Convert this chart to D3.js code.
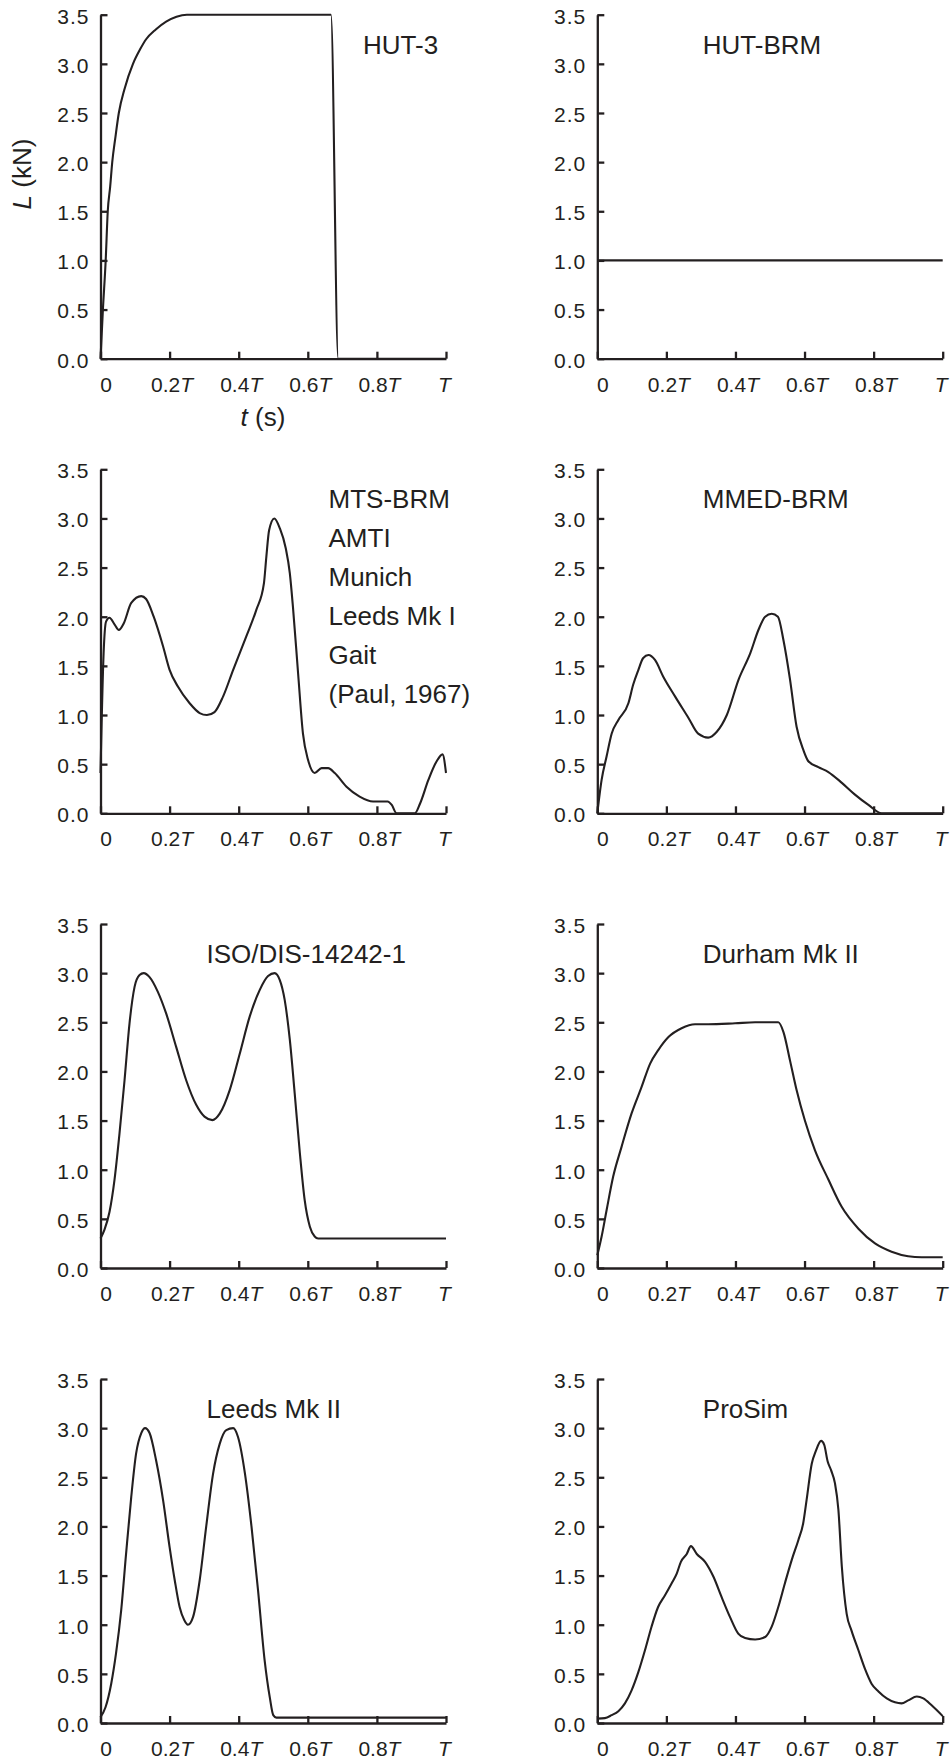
<!DOCTYPE html>
<html>
<head>
<meta charset="utf-8">
<script src="https://cdn.jsdelivr.net/npm/d3@7"></script>
<style>
body { margin: 0; background: #fff; }
svg text { font-family: "Liberation Sans", Arial, Helvetica, sans-serif; fill: #231f20; }
</style>
</head>
<body>
<svg id="chart" width="950" height="1763"></svg>
<script>

// tick values and labels (shared by all panels)
var yTicks = [0, 0.5, 1, 1.5, 2, 2.5, 3, 3.5];
var yTickLabels = ["0.0", "0.5", "1.0", "1.5", "2.0", "2.5", "3.0", "3.5"];
var xTicks = [0, 0.2, 0.4, 0.6, 0.8, 1];
var xTickLabels = ["0", "0.2T", "0.4T", "0.6T", "0.8T", "T"];

// HUT-3
var tHut3 = [0, 0.007, 0.015, 0.021, 0.028, 0.034, 0.043, 0.053, 0.07, 0.094, 0.115, 0.132, 0.16, 0.19, 0.22, 0.25, 0.667, 0.688, 1];
var lHut3 = [0, 0.5, 1.0, 1.5, 1.75, 2.0, 2.25, 2.5, 2.75, 3.0, 3.15, 3.25, 3.35, 3.43, 3.48, 3.5, 3.5, 0, 0];

// HUT-BRM
var tHutBrm = [0, 1];
var lHutBrm = [1, 1];

// MTS-BRM / AMTI / Munich / Leeds Mk I / Gait
var tMts = [0, 0.009, 0.016, 0.026, 0.041, 0.053, 0.067, 0.089, 0.118, 0.132, 0.154, 0.181, 0.2, 0.224, 0.258, 0.287, 0.308, 0.33, 0.355, 0.384, 0.422, 0.451, 0.473, 0.48, 0.488, 0.503, 0.519, 0.536, 0.548, 0.557, 0.572, 0.586, 0.601, 0.62, 0.64, 0.659, 0.678, 0.712, 0.75, 0.789, 0.831, 0.843, 0.857, 0.91, 0.925, 0.949, 0.973, 0.99, 1];
var lMts = [0.41, 1.63, 1.95, 1.99, 1.92, 1.865, 1.93, 2.14, 2.21, 2.18, 2.0, 1.7, 1.46, 1.29, 1.12, 1.02, 1.0, 1.03, 1.19, 1.46, 1.8, 2.07, 2.34, 2.61, 2.88, 3.0, 2.9, 2.7, 2.44, 2.1, 1.42, 0.81, 0.54, 0.41, 0.46, 0.46, 0.41, 0.27, 0.17, 0.12, 0.12, 0.085, 0, 0, 0.1, 0.34, 0.53, 0.6, 0.41];

// MMED-BRM
var tMmed = [0, 0.0125, 0.027, 0.0415, 0.061, 0.09, 0.104, 0.119, 0.133, 0.148, 0.167, 0.191, 0.225, 0.264, 0.292, 0.321, 0.346, 0.375, 0.409, 0.443, 0.467, 0.486, 0.505, 0.523, 0.539, 0.558, 0.577, 0.597, 0.611, 0.64, 0.669, 0.708, 0.746, 0.785, 0.823, 1];
var lMmed = [0, 0.34, 0.58, 0.81, 0.95, 1.12, 1.31, 1.46, 1.58, 1.61, 1.56, 1.39, 1.19, 0.97, 0.81, 0.77, 0.83, 1.0, 1.36, 1.63, 1.87, 2.0, 2.03, 2.0, 1.76, 1.36, 0.88, 0.64, 0.53, 0.47, 0.42, 0.31, 0.19, 0.085, 0, 0];

// ISO/DIS-14242-1
var tIso = [0, 0.0116, 0.026, 0.0406, 0.055, 0.0696, 0.084, 0.0986, 0.113, 0.125, 0.142, 0.166, 0.19, 0.219, 0.248, 0.277, 0.301, 0.324, 0.345, 0.374, 0.403, 0.432, 0.461, 0.485, 0.504, 0.519, 0.533, 0.548, 0.562, 0.577, 0.591, 0.606, 0.62, 0.63, 1];
var lIso = [0.3, 0.39, 0.57, 0.9, 1.37, 1.91, 2.49, 2.86, 2.98, 3.0, 2.96, 2.81, 2.59, 2.25, 1.91, 1.66, 1.54, 1.505, 1.57, 1.81, 2.18, 2.56, 2.83, 2.97, 3.0, 2.93, 2.73, 2.32, 1.78, 1.17, 0.69, 0.42, 0.32, 0.3, 0.3];

// Durham Mk II
var tDurham = [0, 0.0125, 0.027, 0.046, 0.07, 0.099, 0.128, 0.153, 0.177, 0.206, 0.244, 0.283, 0.321, 0.399, 0.457, 0.524, 0.539, 0.558, 0.577, 0.601, 0.63, 0.669, 0.708, 0.756, 0.804, 0.852, 0.9, 0.939, 1];
var lDurham = [0.13, 0.32, 0.59, 0.93, 1.23, 1.57, 1.84, 2.08, 2.22, 2.35, 2.44, 2.48, 2.48, 2.49, 2.5, 2.5, 2.4, 2.11, 1.81, 1.5, 1.2, 0.9, 0.62, 0.4, 0.25, 0.166, 0.12, 0.11, 0.11];

// Leeds Mk II
var tLeeds2 = [0, 0.0145, 0.031, 0.045, 0.06, 0.074, 0.089, 0.103, 0.118, 0.129, 0.142, 0.161, 0.181, 0.2, 0.215, 0.229, 0.242, 0.253, 0.268, 0.287, 0.306, 0.326, 0.345, 0.364, 0.384, 0.398, 0.418, 0.437, 0.456, 0.475, 0.49, 0.5, 0.509, 1];
var lLeeds2 = [0.06, 0.16, 0.4, 0.71, 1.15, 1.72, 2.3, 2.74, 2.95, 3.0, 2.95, 2.67, 2.27, 1.79, 1.45, 1.18, 1.05, 1.0, 1.08, 1.45, 2.0, 2.54, 2.84, 2.98, 3.0, 2.91, 2.54, 2.0, 1.35, 0.64, 0.26, 0.08, 0.055, 0.055];

// ProSim
var tProsim = [0, 0.022, 0.0415, 0.061, 0.08, 0.099, 0.119, 0.138, 0.157, 0.176, 0.196, 0.215, 0.23, 0.242, 0.259, 0.271, 0.288, 0.312, 0.336, 0.36, 0.384, 0.408, 0.428, 0.457, 0.486, 0.505, 0.524, 0.543, 0.563, 0.582, 0.596, 0.606, 0.621, 0.632, 0.648, 0.657, 0.667, 0.677, 0.688, 0.698, 0.708, 0.722, 0.736, 0.756, 0.775, 0.794, 0.814, 0.838, 0.862, 0.881, 0.9, 0.925, 0.944, 0.968, 1];
var lProsim = [0.045, 0.05, 0.08, 0.12, 0.2, 0.33, 0.52, 0.74, 0.98, 1.18, 1.3, 1.42, 1.52, 1.64, 1.72, 1.8, 1.72, 1.64, 1.49, 1.28, 1.08, 0.91, 0.865, 0.85, 0.875, 0.98, 1.18, 1.42, 1.66, 1.86, 2.03, 2.27, 2.64, 2.76, 2.87, 2.83, 2.66, 2.57, 2.44, 2.17, 1.59, 1.11, 0.94, 0.74, 0.55, 0.4, 0.32, 0.25, 0.21, 0.2, 0.23, 0.27, 0.25, 0.18, 0.07];

var titles = [
  ["HUT-3"],
  ["HUT-BRM"],
  ["MTS-BRM", "AMTI", "Munich", "Leeds Mk I", "Gait", "(Paul, 1967)"],
  ["MMED-BRM"],
  ["ISO/DIS-14242-1"],
  ["Durham Mk II"],
  ["Leeds Mk II"],
  ["ProSim"]
];

var seriesT = [tHut3, tHutBrm, tMts, tMmed, tIso, tDurham, tLeeds2, tProsim];
var seriesL = [lHut3, lHutBrm, lMts, lMmed, lIso, lDurham, lLeeds2, lProsim];

// layout
var colLeft = [100.5, 597.3],
    colRight = [446, 942.7],
    rowTop = [14.7, 469.3, 924, 1379],
    plotH = 344;
var titleDx = [262.5, 105.5, 228, 105.5, 106, 105.5, 106, 105.5];
var xLabelDx = [5, 2, 2, 2, 2, -2];
var ink = "#231f20";

var svg = d3.select("#chart");

seriesT.forEach(function(tArr, i) {
  var col = i % 2, row = Math.floor(i / 2);
  var w = colRight[col] - colLeft[col];

  var x = d3.scaleLinear().domain([0, 1]).range([0, w]);
  var y = d3.scaleLinear().domain([0, 3.5]).range([plotH, 0]);

  var g = svg.append("g")
    .attr("transform", "translate(" + colLeft[col] + "," + rowTop[row] + ")");

  // y axis, ticks pointing inward
  var ya = g.append("g")
    .call(d3.axisLeft(y).tickValues(yTicks)
      .tickFormat(function(d, k) { return yTickLabels[k]; })
      .tickSizeInner(-7).tickSizeOuter(0).tickPadding(11));
  ya.attr("font-size", 21).attr("font-family", null).style("color", ink);
  ya.selectAll("text").attr("dy", "0.4em").attr("letter-spacing", "1px");
  ya.selectAll("path, line").attr("stroke-width", 2.3);

  // x axis
  var xa = g.append("g")
    .attr("transform", "translate(0," + plotH + ")")
    .call(d3.axisBottom(x).tickValues(xTicks)
      .tickFormat("").tickSizeInner(-7).tickSizeOuter(0));
  xa.attr("font-size", 21).attr("font-family", null).style("color", ink);
  xa.selectAll("path, line").attr("stroke-width", 2.3);
  xa.selectAll(".tick text").each(function(d, k) {
    var s = xTickLabels[k];
    var el = d3.select(this).text(null).attr("y", 33).attr("dy", null).attr("dx", xLabelDx[k]);
    var num = s.replace("T", "");
    if (num) el.append("tspan").text(num);
    if (s.indexOf("T") >= 0) el.append("tspan").attr("font-style", "italic").text("T");
  });

  // the curve
  var pts = tArr.map(function(t, k) { return [t, seriesL[i][k]]; });
  g.append("path")
    .datum(pts)
    .attr("fill", "none")
    .attr("stroke", ink)
    .attr("stroke-width", 2.1)
    .attr("stroke-linejoin", "round")
    .attr("d", d3.line()
      .x(function(d) { return x(d[0]); })
      .y(function(d) { return y(d[1]); })
      .curve(d3.curveMonotoneX));

  // panel label(s)
  titles[i].forEach(function(line, k) {
    g.append("text")
      .attr("x", titleDx[i])
      .attr("y", 39 + k * 39)
      .attr("font-size", 26)
      .text(line);
  });
});

// axis titles on the first panel
var yl = svg.append("text")
  .attr("transform", "translate(31,174) rotate(-90)")
  .attr("text-anchor", "middle")
  .attr("font-size", 26);
yl.append("tspan").attr("font-style", "italic").text("L");
yl.append("tspan").text(" (kN)");

var xl = svg.append("text")
  .attr("x", 263)
  .attr("y", 426)
  .attr("text-anchor", "middle")
  .attr("font-size", 26);
xl.append("tspan").attr("font-style", "italic").text("t");
xl.append("tspan").text(" (s)");

</script>
</body>
</html>
